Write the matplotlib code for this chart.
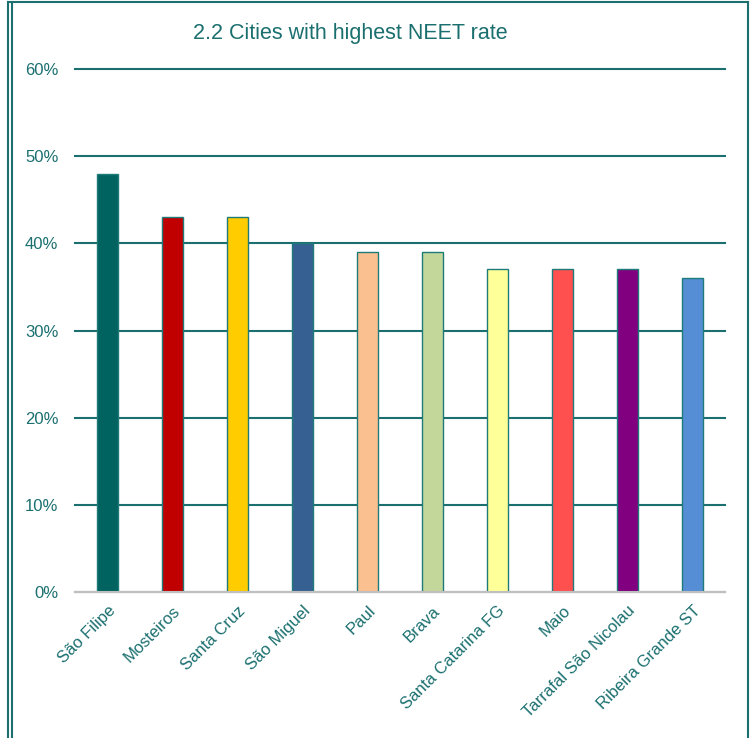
import matplotlib.pyplot as plt
from matplotlib.lines import Line2D
from matplotlib.ticker import PercentFormatter

cities = ["São Filipe", "Mosteiros", "Santa Cruz", "São Miguel", "Paul", "Brava",
          "Santa Catarina FG", "Maio", "Tarrafal São Nicolau", "Ribeira Grande ST"]
neet_rate = [0.48, 0.43, 0.43, 0.40, 0.39, 0.39, 0.37, 0.37, 0.37, 0.36]
bar_colors = ["#00635F", "#C00000", "#FFCC00", "#376092", "#FAC090", "#C4D79B",
              "#FFFF99", "#FF5050", "#800080", "#558ED5"]

teal = "#1B6F6F"
plt.rcParams["font.family"] = ["Liberation Sans", "DejaVu Sans"]

fig = plt.figure(figsize=(7.5, 7.38), dpi=100)
ax = fig.add_axes([0.1, 0.1978, 0.8667, 0.7087])

x = range(len(cities))
ax.bar(x, neet_rate, width=0.31, color=bar_colors, edgecolor="#1F7A7A",
       linewidth=1.0, zorder=3)

ax.set_xlim(-0.5, len(cities) - 0.5)
ax.set_ylim(0, 0.6)
ax.set_yticks([0, 0.1, 0.2, 0.3, 0.4, 0.5, 0.6])
ax.yaxis.set_major_formatter(PercentFormatter(1.0, decimals=0))
ax.grid(axis="y", color=teal, linewidth=1.5, zorder=0)
for gl in ax.get_ygridlines():
    gl.set_clip_on(False)
ax.set_xticks(list(x))
ax.set_xticklabels(cities, rotation=45, ha="right", rotation_mode="anchor")
ax.tick_params(axis="both", length=0, colors=teal, labelsize=12)
ax.tick_params(axis="y", pad=12)
ax.tick_params(axis="x", pad=8)
for s in ["top", "right", "left"]:
    ax.spines[s].set_visible(False)
ax.spines["bottom"].set_color("#BFBFBF")
ax.spines["bottom"].set_linewidth(1.5)
ax.spines["bottom"].set_zorder(4)

fig.text(0.467, 0.955, "2.2 Cities with highest NEET rate", ha="center",
         va="center", color=teal, fontsize=15.5)

# outer frame
fig.add_artist(Line2D([0.011, 0.011], [0, 0.997], color=teal, lw=1.5))
fig.add_artist(Line2D([0.0165, 0.0165], [0, 0.997], color=teal, lw=1.5))
fig.add_artist(Line2D([0.011, 0.997], [0.997, 0.997], color=teal, lw=1.5))
fig.add_artist(Line2D([0.997, 0.997], [0, 0.997], color=teal, lw=1.5))

fig.savefig("out.png", dpi=100)
plt.close(fig)
